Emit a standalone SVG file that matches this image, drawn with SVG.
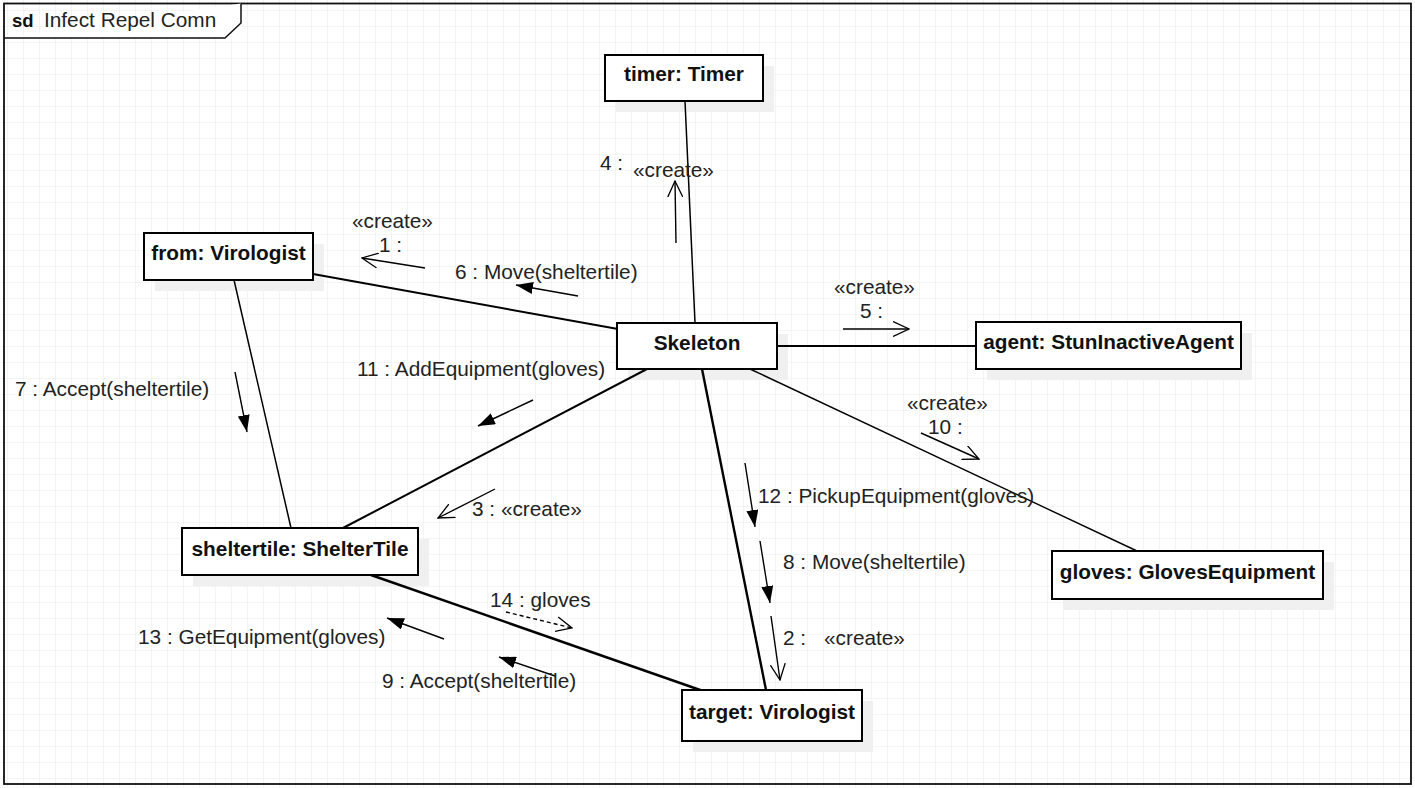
<svg xmlns="http://www.w3.org/2000/svg" width="1415" height="788" viewBox="0 0 1415 788">
<defs>
<pattern id="grid" x="7" y="10" width="16" height="16" patternUnits="userSpaceOnUse">
<path d="M0,0 H16 M0,0 V16" fill="none" stroke="#ececec" stroke-width="1.2"/>
</pattern>
<marker id="fill" viewBox="0 0 17 12" refX="17" refY="6" markerWidth="17" markerHeight="12" markerUnits="userSpaceOnUse" orient="auto">
<path d="M0,0 L17,6 L0,12 z" fill="#000"/>
</marker>
<marker id="open" viewBox="0 0 17 16" refX="16" refY="8" markerWidth="17" markerHeight="16" markerUnits="userSpaceOnUse" orient="auto">
<path d="M0,0.5 L16,8 L0,15.5" fill="none" stroke="#000" stroke-width="1.3"/>
</marker>
</defs>
<style>
.lbl{font-family:"Liberation Sans",Arial,sans-serif;font-size:20.8px;fill:#222}
.nm{font-family:"Liberation Sans",Arial,sans-serif;font-size:20.8px;font-weight:bold;fill:#111;text-anchor:middle}
.box{fill:#fff;stroke:#000;stroke-width:2}
.sh{fill:#f0f0f0}
.conn{stroke:#000;fill:none}
.msgf{stroke:#000;stroke-width:1.4;marker-end:url(#fill)}
.msgo{stroke:#000;stroke-width:1.4;marker-end:url(#open)}
</style>
<rect width="1415" height="788" fill="#fff"/>
<rect width="1415" height="788" fill="url(#grid)"/>
<g id="frame">
<rect x="4" y="3.5" width="1407" height="780.5" fill="none" stroke="#111" stroke-width="1.8"/>
<path d="M4,38 H225 L241,23 V3.5" fill="#fff" stroke="#111" stroke-width="1.5"/>
<text x="12" y="27" style="font-family:'Liberation Sans',Arial,sans-serif;font-size:18.5px;font-weight:bold;fill:#111">sd</text>
<text x="44" y="27" class="lbl">Infect Repel Comn</text>
</g>
<g id="shadows">
<rect class="sh" x="616" y="66" width="158" height="46"/>
<rect class="sh" x="155" y="244" width="169" height="47"/>
<rect class="sh" x="628" y="334" width="160" height="46"/>
<rect class="sh" x="987" y="333" width="265" height="47"/>
<rect class="sh" x="193" y="539" width="236" height="47"/>
<rect class="sh" x="1063" y="562" width="271" height="48"/>
<rect class="sh" x="693" y="701" width="180" height="51"/>
</g>
<g id="connectors">
<line class="conn" x1="685" y1="101" x2="695" y2="323" stroke-width="1.5"/>
<line class="conn" x1="313" y1="274" x2="618" y2="329" stroke-width="2"/>
<line class="conn" x1="234" y1="280" x2="291" y2="528" stroke-width="1.5"/>
<line class="conn" x1="777" y1="346" x2="976" y2="346" stroke-width="1.8"/>
<line class="conn" x1="750" y1="369" x2="1137" y2="551" stroke-width="1.4"/>
<line class="conn" x1="647" y1="369" x2="343" y2="528" stroke-width="2"/>
<line class="conn" x1="702" y1="369" x2="766" y2="690" stroke-width="2.4"/>
<line class="conn" x1="371" y1="575" x2="703" y2="691" stroke-width="2.4"/>
</g>
<g id="messages">
<line class="msgo" x1="425" y1="268" x2="362" y2="258"/>
<text class="lbl" x="352" y="228">«create»</text>
<text class="lbl" x="379" y="252">1 :</text>
<line class="msgf" x1="578" y1="296" x2="516" y2="285"/>
<text class="lbl" x="455" y="279">6 : Move(sheltertile)</text>
<line class="msgo" x1="676" y1="243" x2="675" y2="181"/>
<text class="lbl" x="600" y="170">4 :</text>
<text class="lbl" x="633" y="177">«create»</text>
<line class="msgo" x1="843" y1="329" x2="909" y2="329"/>
<text class="lbl" x="834" y="294">«create»</text>
<text class="lbl" x="860" y="318">5 :</text>
<line class="msgo" x1="921" y1="433" x2="979" y2="459"/>
<text class="lbl" x="907" y="410">«create»</text>
<text class="lbl" x="928" y="434">10 :</text>
<line class="msgf" x1="533" y1="400" x2="478" y2="426"/>
<text class="lbl" x="357" y="376">11 : AddEquipment(gloves)</text>
<line class="msgo" x1="495" y1="489" x2="438" y2="518"/>
<text class="lbl" x="472" y="516">3 : «create»</text>
<line class="msgf" x1="235" y1="372" x2="247" y2="432"/>
<text class="lbl" x="15" y="396">7 : Accept(sheltertile)</text>
<line class="msgf" x1="745" y1="463" x2="755" y2="527"/>
<text class="lbl" x="758" y="503">12 : PickupEquipment(gloves)</text>
<line class="msgf" x1="760" y1="541" x2="770" y2="603"/>
<text class="lbl" x="783" y="569">8 : Move(sheltertile)</text>
<line class="msgo" x1="771" y1="616" x2="780" y2="680"/>
<text class="lbl" x="783" y="645">2 :</text>
<text class="lbl" x="824" y="645">«create»</text>
<line class="msgf" x1="444" y1="639" x2="387" y2="618"/>
<text class="lbl" x="138" y="644">13 : GetEquipment(gloves)</text>
<line class="msgf" x1="555" y1="676" x2="499" y2="657"/>
<text class="lbl" x="382" y="688">9 : Accept(sheltertile)</text>
<line class="msgo" x1="506" y1="612" x2="572" y2="628" stroke-dasharray="4,3"/>
<text class="lbl" x="490" y="607">14 : gloves</text>
</g>
<g id="timer">
<rect class="box" x="605" y="55" width="158" height="46"/>
<text class="nm" x="684" y="81">timer: Timer</text>
</g>
<g id="from">
<rect class="box" x="144" y="233" width="169" height="47"/>
<text class="nm" x="228.5" y="260">from: Virologist</text>
</g>
<g id="skeleton">
<rect class="box" x="617" y="323" width="160" height="46"/>
<text class="nm" x="697" y="350">Skeleton</text>
</g>
<g id="agent">
<rect class="box" x="976" y="322" width="265" height="47"/>
<text class="nm" x="1108.5" y="349">agent: StunInactiveAgent</text>
</g>
<g id="sheltertile">
<rect class="box" x="182" y="528" width="236" height="47"/>
<text class="nm" x="300" y="556">sheltertile: ShelterTile</text>
</g>
<g id="gloves">
<rect class="box" x="1052" y="551" width="271" height="48"/>
<text class="nm" x="1187.5" y="579">gloves: GlovesEquipment</text>
</g>
<g id="target">
<rect class="box" x="682" y="690" width="180" height="51"/>
<text class="nm" x="772" y="719">target: Virologist</text>
</g>
</svg>
